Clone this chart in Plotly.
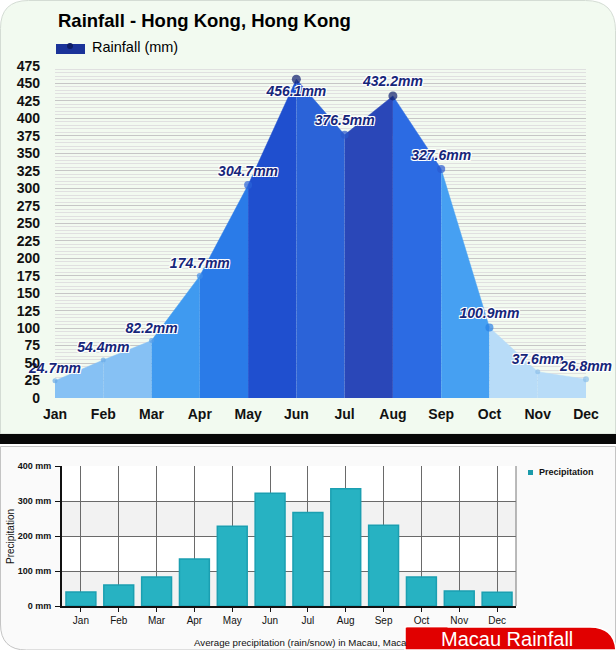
import plotly.graph_objects as go

W, H = 616, 650

months = ["Jan", "Feb", "Mar", "Apr", "May", "Jun", "Jul", "Aug", "Sep", "Oct", "Nov", "Dec"]
hk_rain = [24.7, 54.4, 82.2, 174.7, 304.7, 456.1, 376.5, 432.2, 327.6, 100.9, 37.6, 26.8]
hk_labels = [f"{v}mm" for v in hk_rain]
macau_rain = [40, 60, 83, 134, 228, 322, 267, 335, 231, 83, 43, 39]
hk_yticks = list(range(0, 476, 25))
macau_yticks = [0, 100, 200, 300, 400]
macau_yticklabels = [f"{v} mm" for v in macau_yticks]

seg_colors = ["#86c1f4", "#86c1f4", "#3f9af0", "#2a7be8", "#1f4fcf", "#2b63d8",
              "#2a47b8", "#2c6be3", "#46a0f2", "#b8dcf8", "#b8dcf8"]
marker_colors = ["#6aaae6", "#6aaae6", "#5aa0e8", "#3f8eea", "#2a62d8", "#0f1f6e",
                 "#2a58cc", "#0f1f6e", "#2a5ad0", "#2a80e4", "#8cbfea", "#8cbfea"]
marker_sizes = [5, 5, 5, 6, 8, 9, 8, 9, 8, 8, 5, 6]
label_pos = ["top center"] * 12
label_pos[5] = "bottom center"


def px(x):
    return x / W


def py(y):
    return 1 - y / H


def rrect(x0, y0, x1, y1, tl=0, tr=0, br=0, bl=0):
    def P(x, y):
        return f"{px(x):.5f},{py(y):.5f}"
    s = f"M {P(x0 + tl, y0)} L {P(x1 - tr, y0)} "
    if tr:
        s += f"Q {P(x1, y0)} {P(x1, y0 + tr)} "
    s += f"L {P(x1, y1 - br)} "
    if br:
        s += f"Q {P(x1, y1)} {P(x1 - br, y1)} "
    s += f"L {P(x0 + bl, y1)} "
    if bl:
        s += f"Q {P(x0, y1)} {P(x0, y1 - bl)} "
    s += f"L {P(x0, y0 + tl)} "
    if tl:
        s += f"Q {P(x0, y0)} {P(x0 + tl, y0)} "
    s += "Z"
    return s


fig = go.Figure()

xi = list(range(12))
for i in range(11):
    fig.add_trace(go.Scatter(
        x=[xi[i], xi[i + 1]], y=[hk_rain[i], hk_rain[i + 1]],
        mode="lines", line=dict(width=0.5, color=seg_colors[i]),
        fill="tozeroy", fillcolor=seg_colors[i],
        xaxis="x", yaxis="y", showlegend=False, hoverinfo="skip"))

fig.add_trace(go.Scatter(
    x=xi, y=hk_rain, mode="markers+text", text=hk_labels, textposition=label_pos,
    marker=dict(size=marker_sizes, color=marker_colors, line=dict(width=0)),
    textfont=dict(family="Arial", size=14, color="#16267a", weight="bold", style="italic",
                  shadow="1px 1px 0 #fff, -1px -1px 0 #fff, 1px -1px 0 #fff, -1px 1px 0 #fff"),
    cliponaxis=False, xaxis="x", yaxis="y", showlegend=False, hoverinfo="skip"))

fig.add_trace(go.Bar(
    x=months, y=macau_rain, xaxis="x2", yaxis="y2", width=0.79,
    marker=dict(color="#27b2c2", line=dict(color="#1b9fb1", width=1.5)),
    showlegend=False, hoverinfo="skip"))

shapes = [
    dict(type="path", xref="paper", yref="paper", layer="below",
         path=rrect(0.5, 0.5, 615.5, 434, tl=28, tr=30),
         fillcolor="#f2faf0", line=dict(color="#d4dcd4", width=1)),
    dict(type="rect", xref="paper", yref="paper", layer="below",
         x0=0, x1=1, y0=py(444), y1=py(434), fillcolor="#080808", line=dict(width=0)),
    dict(type="path", xref="paper", yref="paper", layer="below",
         path=rrect(0.5, 446.5, 615.5, 650, bl=26),
         fillcolor="#fafafa", line=dict(color="#c4c4c4", width=1)),
    dict(type="rect", xref="x2 domain", yref="y2", layer="below",
         x0=0, x1=1, y0=0, y1=400, fillcolor="#ffffff", line=dict(width=0)),
    dict(type="rect", xref="x2 domain", yref="y2", layer="below",
         x0=0, x1=1, y0=0, y1=100, fillcolor="#f2f2f2", line=dict(width=0)),
    dict(type="rect", xref="x2 domain", yref="y2", layer="below",
         x0=0, x1=1, y0=200, y1=300, fillcolor="#f2f2f2", line=dict(width=0)),
    dict(type="line", xref="x2 domain", yref="y2", layer="above",
         x0=1, x1=1, y0=0, y1=400, line=dict(color="#777", width=1)),
    # top legend swatch
    dict(type="rect", xref="paper", yref="paper", layer="above",
         x0=px(56), x1=px(85), y0=py(54), y1=py(44), fillcolor="#1b3399", line=dict(width=0)),
    dict(type="circle", xref="paper", yref="paper", layer="above",
         x0=px(67), x1=px(73), y0=py(49), y1=py(43), fillcolor="#0e1c66", line=dict(width=0)),
    # bottom legend marker
    dict(type="rect", xref="paper", yref="paper", layer="above",
         x0=px(528), x1=px(533), y0=py(475), y1=py(470), fillcolor="#1a9aaa", line=dict(width=0)),
    # red label box
    dict(type="path", xref="paper", yref="paper", layer="above",
         path=rrect(405, 627, 616, 650, tr=26),
         fillcolor="#e10000", line=dict(color="#ffffff", width=1.5)),
]

annotations = [
    dict(text="<b>Rainfall - Hong Kong, Hong Kong</b>", xref="paper", yref="paper",
         x=px(56), y=py(21), xanchor="left", yanchor="middle", showarrow=False,
         font=dict(family="Arial", size=18.5, color="#000")),
    dict(text="Rainfall (mm)", xref="paper", yref="paper",
         x=px(90), y=py(47), xanchor="left", yanchor="middle", showarrow=False,
         font=dict(family="Arial", size=14.5, color="#000")),
    dict(text="<b>Precipitation</b>", xref="paper", yref="paper",
         x=px(537), y=py(472), xanchor="left", yanchor="middle", showarrow=False,
         font=dict(family="Arial", size=9, color="#111")),
    dict(text="Precipitation", xref="paper", yref="paper", textangle=-90,
         x=px(10), y=py(537), xanchor="center", yanchor="middle", showarrow=False,
         font=dict(family="Arial", size=10, color="#111")),
    dict(text="Average precipitation (rain/snow) in Macau, Macau", xref="paper", yref="paper",
         x=px(192), y=py(642), xanchor="left", yanchor="middle", showarrow=False,
         font=dict(family="Arial", size=9.7, color="#111")),
    dict(text="", xref="paper", yref="paper", x=px(406), y=py(649), xanchor="left", yanchor="bottom",
         width=40, height=20, bgcolor="#e10000", showarrow=False, borderpad=0),
    dict(text="Macau Rainfall", xref="paper", yref="paper",
         x=px(507), y=py(639), xanchor="center", yanchor="middle", showarrow=False,
         font=dict(family="Arial", size=20, color="#ffffff")),
]

fig.update_layout(
    width=W, height=H, margin=dict(l=0, r=0, t=0, b=0, autoexpand=False),
    paper_bgcolor="#ffffff", plot_bgcolor="rgba(0,0,0,0)",
    showlegend=False, shapes=shapes, annotations=annotations,
    xaxis=dict(domain=[px(55), px(586)], range=[0, 11], anchor="y",
               tickmode="array", tickvals=xi, ticktext=months, showgrid=False, zeroline=False,
               showline=False, ticks="", ticklabelstandoff=6,
               tickfont=dict(family="Arial", size=14, color="#111", weight="bold")),
    yaxis=dict(domain=[py(398), py(66)], range=[0, 475], anchor="x",
               tickmode="array", tickvals=hk_yticks, showgrid=True, gridcolor="#c6c6c6",
               gridwidth=1, zeroline=False, ticks="", ticklabelstandoff=14,
               minor=dict(dtick=5, tick0=0, showgrid=True, gridcolor="#e0e0e0", gridwidth=1),
               tickfont=dict(family="Arial", size=14, color="#111", weight="bold")),
    xaxis2=dict(domain=[px(62), px(516)], anchor="y2", type="category",
                showline=True, linecolor="#111", linewidth=2, ticks="outside", ticklen=4,
                tickcolor="#111", showgrid=True, gridcolor="#6a6a6a", gridwidth=1,
                tickfont=dict(family="Arial", size=10, color="#111")),
    yaxis2=dict(domain=[py(606), py(466)], range=[0, 400], anchor="x2",
                tickmode="array", tickvals=macau_yticks, ticktext=macau_yticklabels,
                showline=True, linecolor="#111", linewidth=2, ticks="outside", ticklen=5,
                ticklabelstandoff=2,
                tickcolor="#111", showgrid=True, gridcolor="#6a6a6a", gridwidth=1, zeroline=False,
                tickfont=dict(family="Arial", size=9, color="#111", weight="bold")),
)

fig.write_html("out.html")
